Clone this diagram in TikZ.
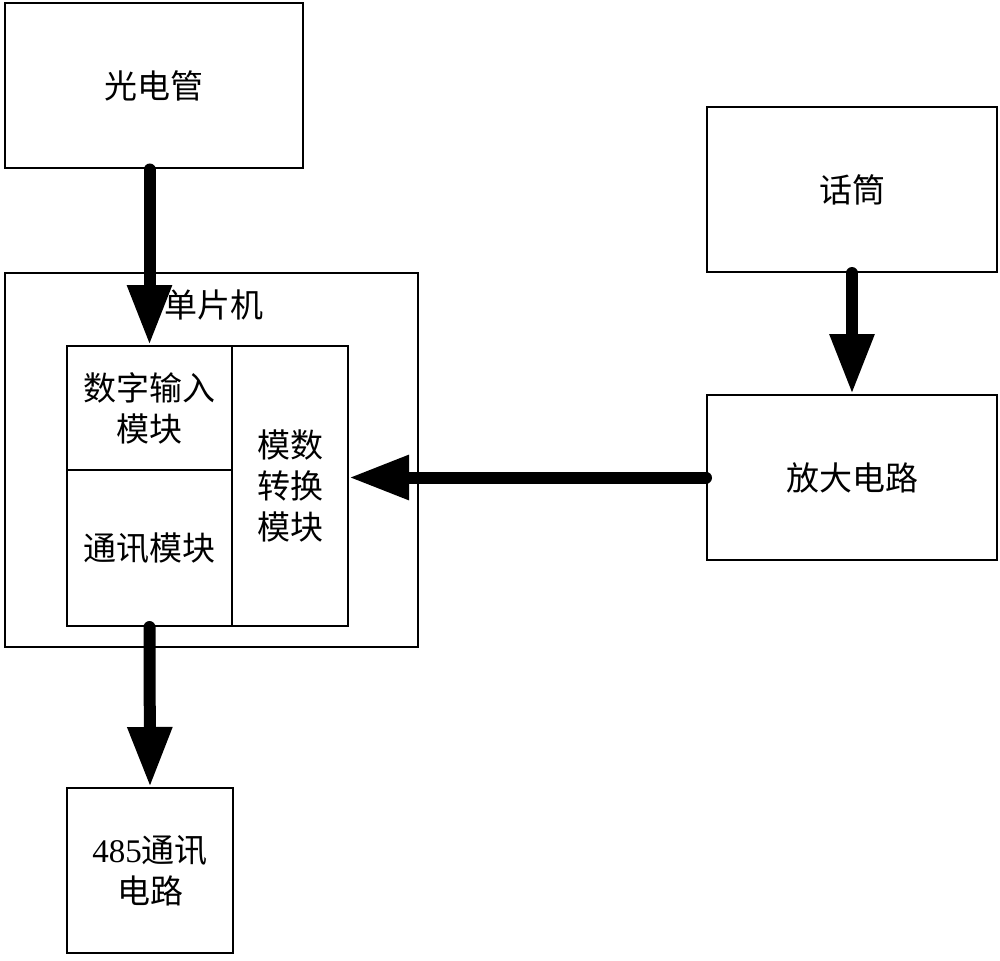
\documentclass[tikz,border=0pt]{standalone}
\usepackage{fontspec}
\setmainfont{Liberation Serif}
\newfontfamily\cjk{Noto Sans CJK SC}
\usetikzlibrary{arrows.meta}
\begin{document}
\begin{tikzpicture}[x=1pt,y=-1pt,
  box/.style={draw,line width=2pt,rectangle,inner sep=0pt,align=center,
    font=\cjk\fontsize{33pt}{41pt}\selectfont},
  bigarrow/.style={line width=12pt,line cap=round,
    -{Triangle[length=60pt,width=42pt]}}]
\useasboundingbox (0,0) rectangle (1000,960);
\node[box,minimum width=298pt,minimum height=165pt] (gdg) at (154,86) {光电管};
\node[box,minimum width=413pt,minimum height=374pt] (dpj) at (211.5,460) {};
\node[font=\cjk\fontsize{33pt}{41pt}\selectfont,inner sep=0pt] (dpjlabel) at (214,305) {单片机};
\node[box,minimum width=165pt,minimum height=124pt] (szsr) at (149.5,408) {数字输入\\模块};
\node[box,minimum width=165pt,minimum height=156pt] (tx) at (149.5,548) {通讯模块};
\node[box,minimum width=116pt,minimum height=280pt] (mszh) at (290,486) {模数\\转换\\模块};
\node[box,minimum width=290pt,minimum height=165pt] (ht) at (852,189.5) {话筒};
\node[box,minimum width=290pt,minimum height=165pt] (fd) at (852,477.5) {放大电路};
\node[box,minimum width=166pt,minimum height=165pt] (c485) at (150,870.5) {{\rmfamily 485}通讯\\电路};
\draw[bigarrow] (szsr.north |- gdg.south) -- (szsr.north);
\draw[bigarrow] (ht.south) -- (fd.north);
\draw[bigarrow] (fd.west) -- (fd.west -| mszh.east);
\draw[bigarrow] (tx.south) -- (c485.north);
\end{tikzpicture}
\end{document}
